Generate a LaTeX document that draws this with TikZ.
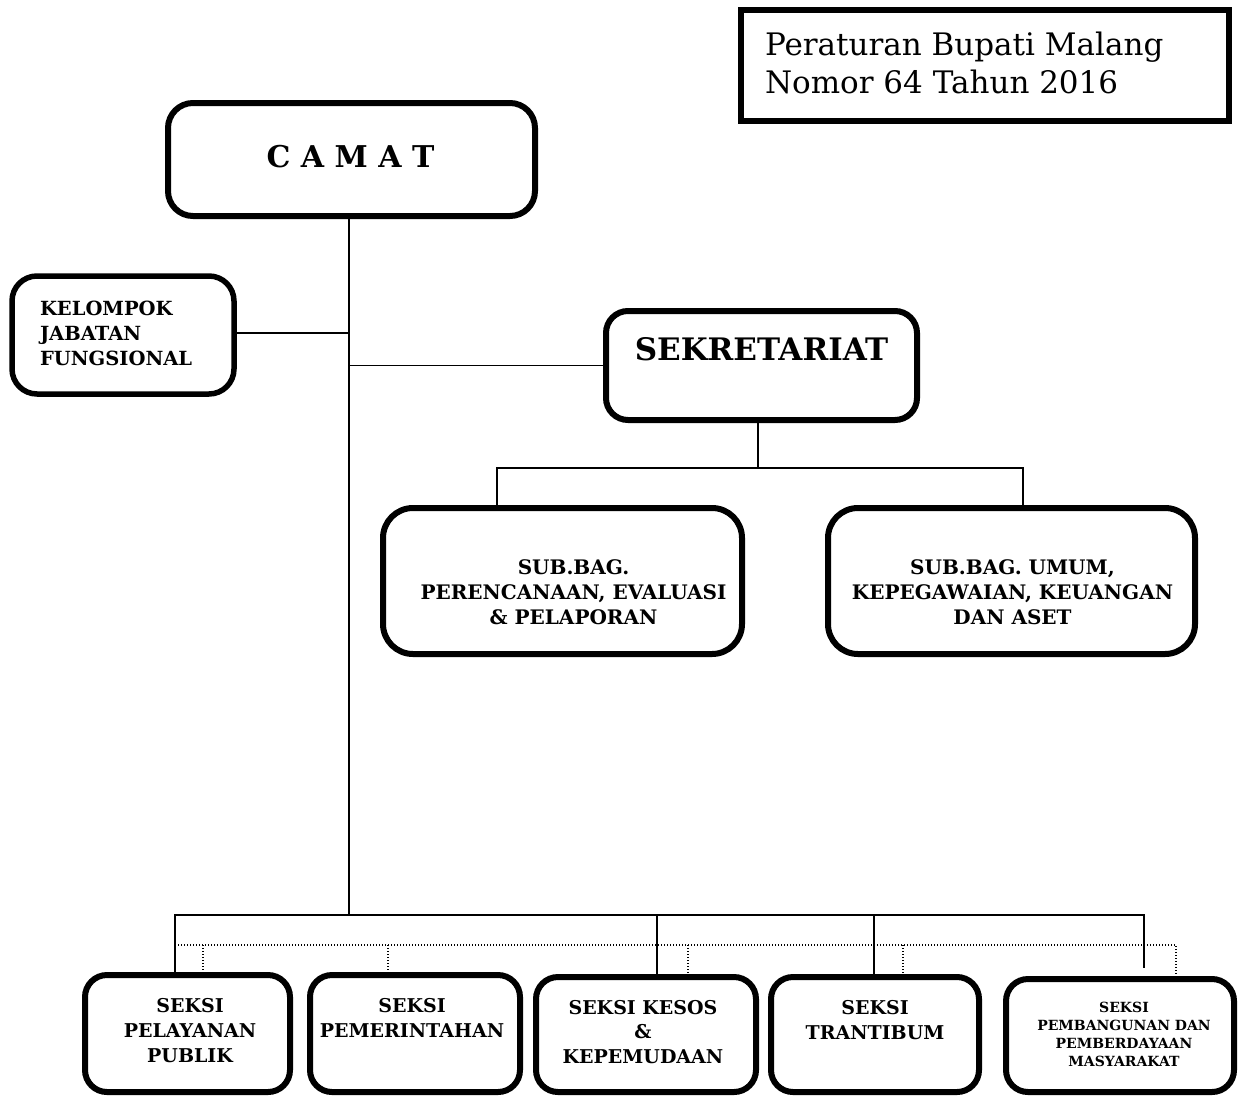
\documentclass[tikz,border=0pt]{standalone}
\usepackage{fontspec}
\setmainfont{DejaVu Serif}
\begin{document}
\begin{tikzpicture}[x=1pt,y=-1pt,
  box/.style={draw, line width=6pt, rounded corners=#1, fill=white, inner sep=0pt, outer sep=0pt},
  box/.default=22pt,
  txt/.style={inner sep=0pt, outer sep=0pt},
  conn/.style={line width=1.4pt},
  dot/.style={line width=1.4pt, dash pattern=on 1.4pt off 1.6pt}]
\useasboundingbox (0,0) rectangle (1239,1095);

% boxes
\node[draw, line width=6.5pt, inner sep=0pt, outer sep=0pt, minimum width=488pt, minimum height=111pt] (reg) at (985,65.5) {};
\node[box=25pt, minimum width=367pt, minimum height=113pt] (camat) at (351.5,159.5) {};
\node[box=25pt, line width=5.5pt, minimum width=222pt, minimum height=118pt] (kel) at (123,335) {};
\node[box=22pt, minimum width=311pt, minimum height=109pt] (sek) at (761.5,365.5) {};
\node[box=30pt, minimum width=359pt, minimum height=146pt] (sub1) at (562.5,581) {};
\node[box=30pt, minimum width=367pt, minimum height=146pt] (sub2) at (1011.5,581) {};
\node[box=22pt, minimum width=205pt, minimum height=117pt] (b1) at (187.5,1033.5) {};
\node[box=22pt, minimum width=210pt, minimum height=117pt] (b2) at (415,1033.5) {};
\node[box=22pt, minimum width=220pt, minimum height=115pt] (b3) at (646,1034.5) {};
\node[box=22pt, minimum width=208pt, minimum height=115pt] (b4) at (875,1034.5) {};
\node[box=22pt, minimum width=228pt, minimum height=113pt] (b5) at (1120,1035.5) {};

% texts
\node[txt, anchor=north west, align=left, font=\fontsize{31}{38}\selectfont] (regT) at (765,32) {Peraturan Bupati Malang\\Nomor 64 Tahun 2016};
\node[txt, anchor=north, font=\bfseries\fontsize{30}{36}\selectfont] (camatT) at (350.5,145) {C A M A T};
\node[txt, anchor=north west, align=left, font=\bfseries\fontsize{19.5}{25}\selectfont] (kelT) at (40,301) {KELOMPOK\\JABATAN\\FUNGSIONAL};
\node[txt, anchor=north, font=\bfseries\fontsize{31}{36}\selectfont] (sekT) at (761.5,337) {SEKRETARIAT};
\node[txt, anchor=north, align=center, font=\bfseries\fontsize{20}{25}\selectfont] (sub1T) at (573.5,560) {SUB.BAG.\\PERENCANAAN, EVALUASI\\\& PELAPORAN};
\node[txt, anchor=north, align=center, font=\bfseries\fontsize{20}{25}\selectfont] (sub2T) at (1012.5,560) {SUB.BAG. UMUM,\\KEPEGAWAIAN, KEUANGAN\\DAN ASET};
\node[txt, anchor=north, align=center, font=\bfseries\fontsize{19}{25}\selectfont] (b1T) at (190,998) {SEKSI\\PELAYANAN\\PUBLIK};
\node[txt, anchor=north, align=center, font=\bfseries\fontsize{19}{25}\selectfont] (b2T) at (412,998) {SEKSI\\PEMERINTAHAN};
\node[txt, anchor=north, align=center, font=\bfseries\fontsize{19}{24.5}\selectfont] (b3T) at (643,1000) {SEKSI KESOS\\\&\\KEPEMUDAAN};
\node[txt, anchor=north, align=center, font=\bfseries\fontsize{19}{25}\selectfont] (b4T) at (875,1000) {SEKSI\\TRANTIBUM};
\node[txt, anchor=north, align=center, font=\bfseries\fontsize{14}{18}\selectfont] (b5T) at (1124,1002) {SEKSI\\PEMBANGUNAN DAN\\PEMBERDAYAAN\\MASYARAKAT};

% coordinates
\coordinate (trunk) at (349,915);
\coordinate (sekbus) at (758,468);
\coordinate (s1) at (497,468);
\coordinate (s2) at (1023,468);
\coordinate (bA) at (175,915);
\coordinate (bB) at (657,915);
\coordinate (bC) at (874,915);
\coordinate (bD) at (1144,915);
\coordinate (bDend) at (1144,968);
\coordinate (dL) at (175,945);
\coordinate (d1) at (203,945);
\coordinate (d2) at (388,945);
\coordinate (d3) at (688,945);
\coordinate (d4) at (903,945);
\coordinate (d5) at (1176,945);

% connectors
\draw[conn] (camat.south -| trunk) -- (trunk);
\draw[conn] (kel.east |- 0,333) -- (trunk |- 0,333);
\draw[conn] (sek.west) -- (sek.west -| trunk);
\draw[conn] (sek.south -| sekbus) -- (sekbus);
\draw[conn] (sub1.north -| s1) -- (s1) -- (s2) -- (sub2.north -| s2);
\draw[conn] (b1.north -| bA) -- (bA) -- (bD) -- (bDend);
\draw[conn] (bB) -- (b3.north -| bB);
\draw[conn] (bC) -- (b4.north -| bC);
\draw[dot] (dL) -- (d5) -- (b5.north -| d5);
\draw[dot] (d1) -- (b1.north -| d1);
\draw[dot] (d2) -- (b2.north -| d2);
\draw[dot] (d3) -- (b3.north -| d3);
\draw[dot] (d4) -- (b4.north -| d4);
\end{tikzpicture}
\end{document}
